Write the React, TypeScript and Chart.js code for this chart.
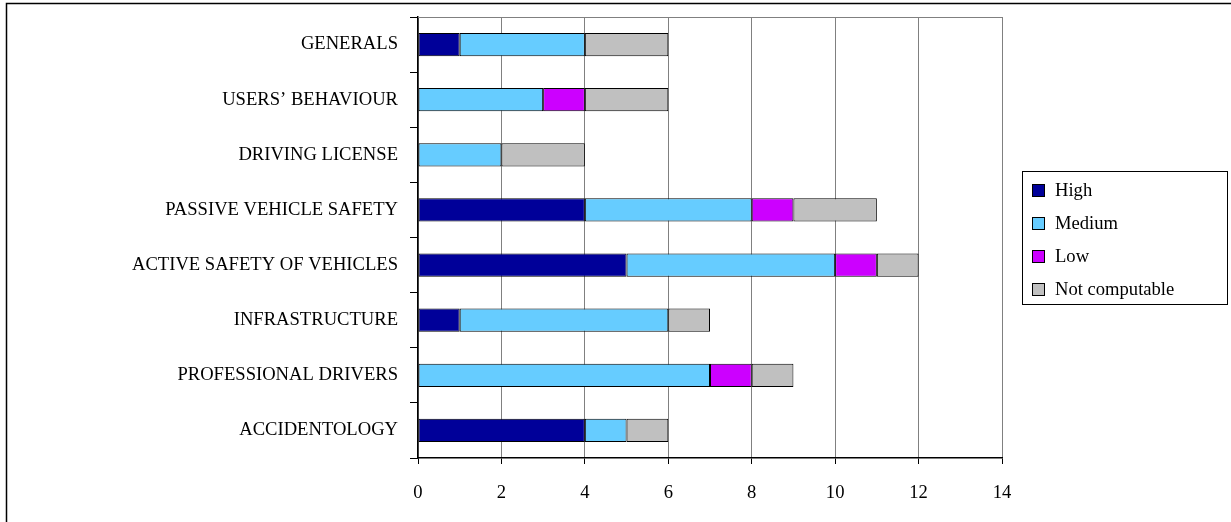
import React, { useEffect, useRef } from "react";
import { Chart, registerables } from "chart.js";

Chart.register(...registerables);

const categories = [
  "GENERALS",
  "USERS’ BEHAVIOUR",
  "DRIVING LICENSE",
  "PASSIVE VEHICLE SAFETY",
  "ACTIVE SAFETY OF VEHICLES",
  "INFRASTRUCTURE",
  "PROFESSIONAL DRIVERS",
  "ACCIDENTOLOGY",
];

const seriesNames = ["High", "Medium", "Low", "Not computable"];
const high = [1, 0, 0, 4, 5, 1, 0, 4];
const medium = [3, 3, 2, 4, 5, 5, 7, 1];
const low = [0, 1, 0, 1, 1, 0, 1, 0];
const notComputable = [2, 2, 2, 2, 1, 1, 1, 1];

const xTicks = [0, 2, 4, 6, 8, 10, 12, 14];

const FONT = "'Liberation Serif', 'Times New Roman', serif";
const FONT_SIZE = 18.6;

const framePlugin = {
  id: "frame",
  beforeDraw(chart: any) {
    const ctx = chart.ctx;
    ctx.save();
    ctx.fillStyle = "#ffffff";
    ctx.fillRect(0, 0, chart.width, chart.height);
    ctx.strokeStyle = "#000000";
    ctx.lineWidth = 1.5;
    ctx.strokeRect(6.5, 3.5, chart.width + 20, chart.height + 20);
    ctx.restore();
  },
  beforeDatasetsDraw(chart: any) {
    const { left, right, top } = chart.chartArea;
    const ctx = chart.ctx;
    ctx.save();
    ctx.strokeStyle = "#808080";
    ctx.lineWidth = 1;
    ctx.beginPath();
    ctx.moveTo(left, Math.round(top) + 0.5);
    ctx.lineTo(right, Math.round(top) + 0.5);
    ctx.stroke();
    ctx.restore();
  },
  afterDraw(chart: any) {
    const ca = chart.chartArea;
    const ctx = chart.ctx;
    const datasets = chart.data.datasets;
    const rowH = 33.3;
    const boxW = 205;
    const boxH = 133;
    const x0 = Math.round(ca.right + 20);
    const y0 = Math.round((ca.top + ca.bottom) / 2 - boxH / 2);
    ctx.save();
    ctx.strokeStyle = "#000000";
    ctx.lineWidth = 1;
    ctx.strokeRect(x0 + 0.5, y0 + 0.5, boxW, boxH);
    ctx.font = `${FONT_SIZE}px ${FONT}`;
    ctx.textBaseline = "middle";
    ctx.textAlign = "left";
    datasets.forEach((ds: any, i: number) => {
      const cy = Math.round(y0 + 18.5 + i * rowH);
      ctx.fillStyle = ds.backgroundColor;
      ctx.fillRect(x0 + 10, cy - 6, 12, 12);
      ctx.strokeStyle = "#000000";
      ctx.strokeRect(x0 + 10.5, cy - 5.5, 12, 12);
      ctx.fillStyle = "#000000";
      ctx.fillText(ds.label, x0 + 33, cy + 1);
    });
    ctx.restore();
  },
};

export default function App() {
  const ref = useRef<HTMLCanvasElement>(null);
  useEffect(() => {
    if (!ref.current) return;
    const colors = ["#000099", "#66CCFF", "#CC00FF", "#C0C0C0"];
    const values = [high, medium, low, notComputable];
    const chart = new Chart(ref.current, {
      type: "bar",
      data: {
        labels: categories,
        datasets: seriesNames.map((label, i) => ({
          label,
          data: values[i],
          backgroundColor: colors[i],
          borderColor: "#000000",
          borderWidth: 1,
          borderSkipped: false,
          barPercentage: 0.42,
          categoryPercentage: 1,
        })),
      },
      options: {
        indexAxis: "y",
        animation: false,
        responsive: false,
        layout: { padding: { top: 17, left: 0, right: 229, bottom: 0 } },
        plugins: {
          tooltip: { enabled: false },
          legend: { display: false },
        },
        scales: {
          x: {
            stacked: true,
            min: 0,
            max: 14,
            afterBuildTicks: (scale: any) => {
              scale.ticks = xTicks.map((v) => ({ value: v }));
            },
            afterFit: (scale: any) => {
              scale.height = 64;
            },
            grid: {
              color: "#808080",
              lineWidth: 1,
              tickColor: "#000000",
              tickLength: 6,
            },
            border: { color: "#000000", width: 1.5 },
            ticks: {
              font: { family: FONT, size: FONT_SIZE },
              color: "#000000",
              padding: 18,
            },
          },
          y: {
            stacked: true,
            afterFit: (scale: any) => {
              scale.width = 418;
              scale.paddingTop = 0;
              scale.paddingBottom = 0;
            },
            grid: {
              drawOnChartArea: false,
              offset: true,
              tickColor: "#000000",
              tickLength: 8,
            },
            border: { color: "#000000", width: 1.5 },
            ticks: {
              font: { family: FONT, size: FONT_SIZE },
              color: "#000000",
              padding: 12,
            },
          },
        },
      },
      plugins: [framePlugin],
    } as any);
    return () => chart.destroy();
  }, []);
  return (
    <div style={{ position: "absolute", left: 0, top: 0, width: 1231, height: 522 }}>
      <canvas ref={ref} width={1231} height={522} style={{ display: "block" }} />
    </div>
  );
}
